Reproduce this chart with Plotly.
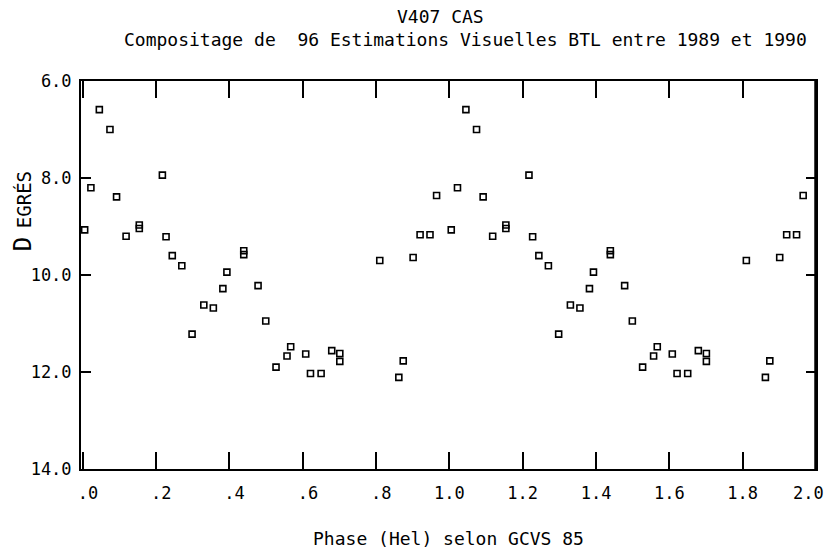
import plotly.graph_objects as go

# Phase-folded light curve (one cycle), repeated over two cycles
phase = [0.005, 0.022, 0.045, 0.074, 0.092, 0.118, 0.154, 0.154, 0.217, 0.227,
         0.244, 0.270, 0.298, 0.330, 0.356, 0.382, 0.393, 0.439, 0.439, 0.478,
         0.499, 0.527, 0.557, 0.567, 0.608, 0.621, 0.650, 0.679, 0.701, 0.701,
         0.810, 0.862, 0.874, 0.901, 0.920, 0.947, 0.965]
mag = [9.07, 8.20, 6.59, 7.00, 8.39, 9.20, 8.97, 9.04, 7.94, 9.21,
       9.60, 9.81, 11.22, 10.62, 10.68, 10.28, 9.94, 9.50, 9.58, 10.22,
       10.95, 11.90, 11.67, 11.48, 11.63, 12.03, 12.03, 11.56, 11.62, 11.78,
       9.70, 12.11, 11.77, 9.64, 9.17, 9.17, 8.36]

x_ticks = [0, 0.2, 0.4, 0.6, 0.8, 1.0, 1.2, 1.4, 1.6, 1.8]
x_labels = ["\u00a0.0", "\u00a0.2", "\u00a0.4", "\u00a0.6", "\u00a0.8",
            "1.0", "1.2", "1.4", "1.6", "1.8"]
x_last_label = "2.0"
y_ticks = [6, 8, 10, 12, 14]
y_labels = ["6.0", "8.0", "10.0", "12.0", "14.0"]

FONT = "DejaVu Sans Mono"

xs = phase + [p + 1 for p in phase]
ys = mag + mag

fig = go.Figure()
fig.add_trace(go.Scatter(
    x=xs, y=ys, mode="markers",
    marker=dict(symbol="square-open", size=6, color="black",
                line=dict(width=1.6, color="black")),
    showlegend=False, cliponaxis=True,
))

# explicit right frame edge (plot border)
fig.add_shape(type="line", xref="paper", yref="paper", x0=0.999, x1=0.999,
              y0=0, y1=1, line=dict(color="black", width=2), layer="above")

fig.update_layout(
    width=829, height=559,
    margin=dict(l=81, r=11, t=81, b=90),
    paper_bgcolor="white", plot_bgcolor="white",
    font=dict(family=FONT, size=17, color="black"),
    xaxis=dict(
        range=[-0.005, 2.0], tickvals=x_ticks, ticktext=x_labels,
        showgrid=False, zeroline=False,
        showline=True, linewidth=2, linecolor="black", mirror="ticks",
        ticks="inside", ticklen=17, tickwidth=1.5, tickcolor="black",
        tickfont=dict(family=FONT, size=17),
        ticklabelstandoff=8,
        title=dict(text="Phase (Hel) selon GCVS 85",
                   font=dict(family=FONT, size=18), standoff=30),
    ),
    yaxis=dict(
        range=[14, 6], tickvals=y_ticks, ticktext=y_labels,
        showgrid=False, zeroline=False,
        showline=True, linewidth=2, linecolor="black", mirror="ticks",
        ticks="inside", ticklen=10, tickwidth=1.5, tickcolor="black",
        tickfont=dict(family=FONT, size=17),
        ticklabelstandoff=4,
    ),
    annotations=[
        dict(text="V407 CAS", x=441, y=559 - 17, xanchor="center",
             font=dict(family=FONT, size=18)),
        dict(text="Compositage de  96 Estimations Visuelles BTL entre 1989 et 1990",
             x=467, y=559 - 40, xanchor="center", font=dict(family=FONT, size=18)),
        dict(text="D", x=23, y=559 - 244, textangle=-90, xanchor="center",
             font=dict(family=FONT, size=24)),
        dict(text="EGRÉS", x=24, y=559 - 200, textangle=-90, xanchor="center",
             font=dict(family=FONT, size=19)),
        dict(text=x_last_label, x=828, y=559 - 493, xanchor="right",
             font=dict(family=FONT, size=17)),
    ],
)

# convert pixel annotation positions to paper coords
pw = 829 - 81 - 11
ph = 559 - 81 - 90
for a in fig.layout.annotations:
    a.x = (a.x - 81) / pw
    a.y = (a.y - 90) / ph
    a.xref = "paper"
    a.yref = "paper"
    a.yanchor = "middle"
    a.showarrow = False

fig.write_html("out.html")
